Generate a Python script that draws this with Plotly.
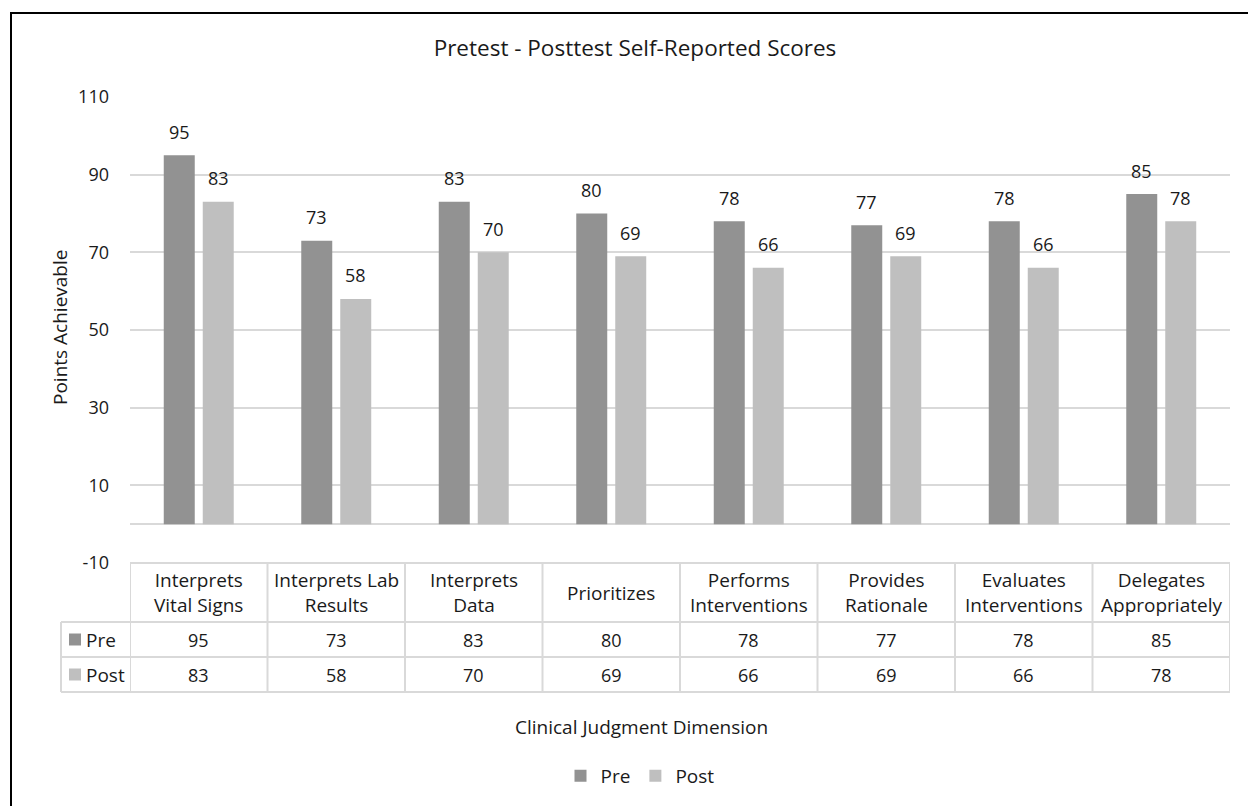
import plotly.graph_objects as go

categories = ["Interprets Vital Signs", "Interprets Lab Results", "Interprets Data",
              "Prioritizes", "Performs Interventions", "Provides Rationale",
              "Evaluates Interventions", "Delegates Appropriately"]
header_labels = ["Interprets<br>Vital Signs", "Interprets Lab<br>Results", "Interprets<br>Data",
                 "Prioritizes", "Performs<br>Interventions", "Provides<br>Rationale",
                 "Evaluates<br>Interventions", "Delegates<br>Appropriately"]
pre = [95, 73, 83, 80, 78, 77, 78, 85]
post = [83, 58, 70, 69, 66, 69, 66, 78]
series_names = ["Pre", "Post"]
y_ticks = [-10, 10, 30, 50, 70, 90, 110]
y_tick_text = ["-10", "10", "30", "50", "70", "90", "110"]

PRE_C = "#929292"
POST_C = "#bfbfbf"
GRID_C = "#d9d9d9"
FONT = "'Open Sans', Lato, sans-serif"
TXT = "#1a1a1a"

W, H = 1248, 806
L, R, T, B = 130, 18, 97, 243
PH = H - T - B  # plot height px

def py(pix):
    """pixel y -> paper y"""
    return (H - B - pix) / PH

def px(pix):
    return (pix - L) / (W - L - R)

fig = go.Figure()
fig.add_trace(go.Bar(name=series_names[0], x=categories, y=pre, marker_color=PRE_C,
                     marker_line_width=0))
fig.add_trace(go.Bar(name=series_names[1], x=categories, y=post, marker_color=POST_C,
                     marker_line_width=0))

ann = []
shapes = []
fn = dict(family=FONT, size=18, color=TXT)   # numbers
fw = dict(family=FONT, size=19, color=TXT)   # words
# data labels above bars
for vals, shift in ((pre, -19.5), (post, 19.5)):
    for c, v in zip(categories, vals):
        ann.append(dict(x=c, y=v, xref="x", yref="y", text=str(v), showarrow=False,
                        xshift=shift, yshift=23.5, yanchor="middle", font=fn))

# data table
y_top, y_h, y_pre, y_post = py(563), py(622), py(657), py(692)
x_leg = px(61)
line = dict(color=GRID_C, width=2)
n = len(categories)
shapes.append(dict(type="line", xref="x", yref="paper", x0=-0.5, x1=n - 0.5, y0=y_top, y1=y_top, line=line))
for yy in (y_h, y_pre, y_post):
    shapes.append(dict(type="line", xref="paper", yref="paper", x0=x_leg, x1=1, y0=yy, y1=yy, line=line))
for i in range(n + 1):
    shapes.append(dict(type="line", xref="x", yref="paper", x0=i - 0.5, x1=i - 0.5,
                       y0=y_top, y1=y_post, line=line))
shapes.append(dict(type="line", xref="paper", yref="paper", x0=x_leg, x1=x_leg,
                   y0=y_h, y1=y_post, line=line))

for i, c in enumerate(categories):
    ann.append(dict(x=c, y=(y_top + y_h) / 2, xref="x", yref="paper", text=header_labels[i],
                    showarrow=False, yanchor="middle", font=fw))
    ann.append(dict(x=c, y=(y_h + y_pre) / 2, xref="x", yref="paper", text=str(pre[i]),
                    showarrow=False, yanchor="middle", font=fn))
    ann.append(dict(x=c, y=(y_pre + y_post) / 2, xref="x", yref="paper", text=str(post[i]),
                    showarrow=False, yanchor="middle", font=fn))

# legend keys in table
for (yy0, yy1), name, col in (((y_h, y_pre), series_names[0], PRE_C), ((y_pre, y_post), series_names[1], POST_C)):
    mid_pix = H - B - ((yy0 + yy1) / 2) * PH
    shapes.append(dict(type="rect", xref="paper", yref="paper", x0=px(69), x1=px(81),
                       y0=py(mid_pix + 6), y1=py(mid_pix - 6), fillcolor=col, line=dict(width=0)))
    ann.append(dict(x=px(84), y=(yy0 + yy1) / 2, xref="paper", yref="paper", text=name,
                    showarrow=False, xanchor="left", yanchor="middle", font=fw))

# axis titles
ann.append(dict(x=px(60), y=py(328), xref="paper", yref="paper", text="Points Achievable",
                textangle=-90, showarrow=False, xanchor="center", yanchor="middle", font=fw))
ann.append(dict(x=px(641), y=py(727), xref="paper", yref="paper", text="Clinical Judgment Dimension",
                showarrow=False, xanchor="center", yanchor="middle", font=fw))

# outer frame
shapes.append(dict(type="rect", xref="paper", yref="paper", x0=px(11), x1=px(1300),
                   y0=py(900), y1=py(13), line=dict(color="black", width=2), fillcolor="rgba(0,0,0,0)"))

fig.update_layout(
    width=W, height=H,
    margin=dict(l=L, r=R, t=T, b=B, autoexpand=False),
    paper_bgcolor="white", plot_bgcolor="white",
    barmode="group", bargap=0.433, bargroupgap=0.205,
    title=dict(text="Pretest - Posttest Self-Reported Scores", x=635 / W, xanchor="center",
               y=1 - 48 / H, yanchor="middle", yref="container",
               font=dict(family=FONT, size=22.5, color=TXT)),
    font=fw,
    xaxis=dict(type="category", range=[-0.5, n - 0.5], showticklabels=False, showgrid=False,
               showline=False, zeroline=False, ticks=""),
    yaxis=dict(range=[-10, 110], tickvals=y_ticks, ticktext=y_tick_text, showgrid=True,
               gridcolor=GRID_C, gridwidth=2,
               zeroline=True, zerolinecolor=GRID_C, zerolinewidth=2, showline=False,
               ticklabelstandoff=20, tickfont=fn),
    legend=dict(orientation="h", x=px(640), xanchor="center", y=py(776), yanchor="middle",
                font=fw, itemwidth=30, traceorder="normal"),
    annotations=ann, shapes=shapes,
)

fig.write_html("out.html")
